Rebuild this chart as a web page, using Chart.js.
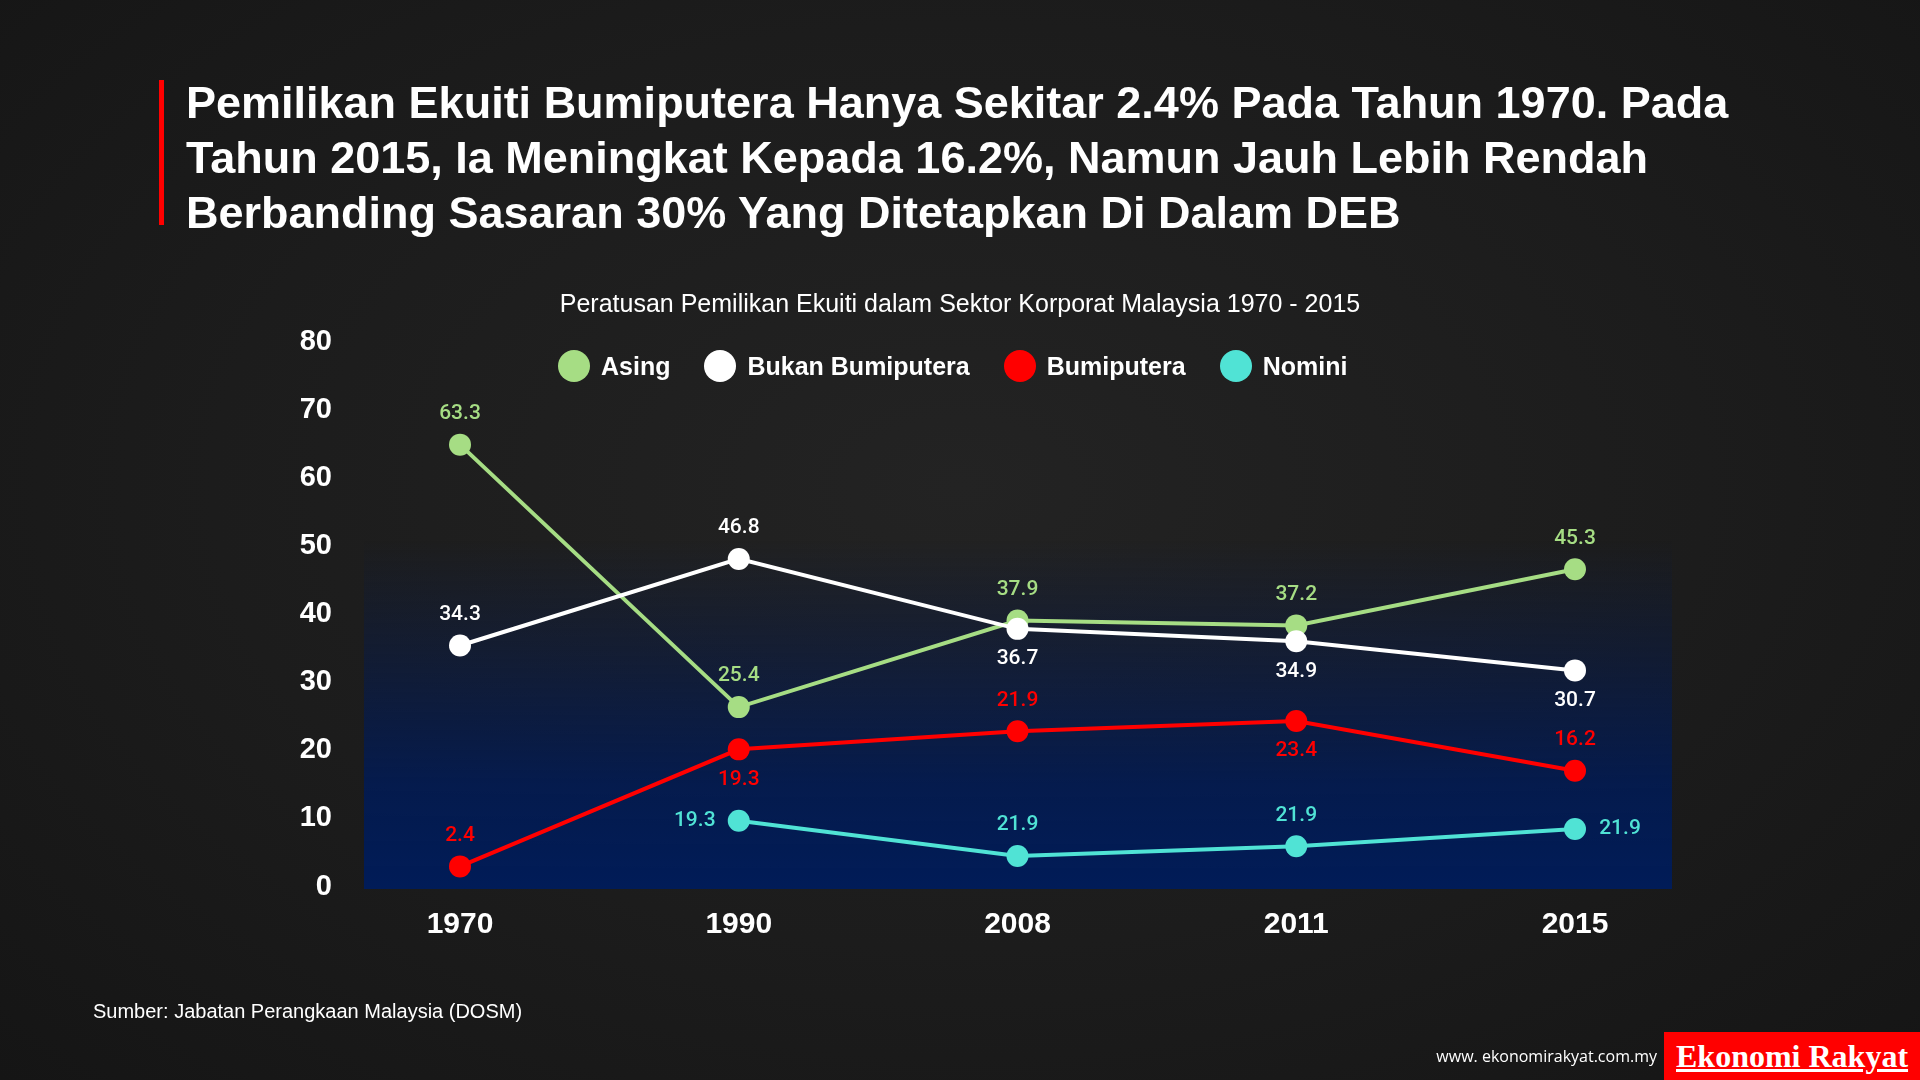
<!DOCTYPE html>
<html>
<head>
<meta charset="utf-8">
<script src="https://cdn.jsdelivr.net/npm/chart.js@4.4.1/dist/chart.umd.min.js"></script>
<style>
    html, body { margin: 0; padding: 0; }
    body {
        width: 1920px; height: 1080px; overflow: hidden; position: relative;
        background: radial-gradient(ellipse at 50% 45%, #232323 0%, #1c1c1c 55%, #151515 100%);
        font-family: "Liberation Sans", Arial, sans-serif; color: #fff;
    }
    #plot { position: absolute; left: 0; top: 0; }
    .bar { position: absolute; left: 159px; top: 80px; width: 5px; height: 145px; background: #ff0000; }
    .headline { position: absolute; left: 186px; top: 75px; font-size: 45px; line-height: 55px; font-weight: bold; white-space: nowrap; }
    .subtitle { position: absolute; left: 0; width: 1920px; top: 291px; text-align: center; font-size: 25px; line-height: 1; }
    #legend { position: absolute; left: 558px; top: 350px; display: flex; align-items: center; font-size: 25px; line-height: 1; font-weight: bold; }
    #legend .item { display: flex; align-items: center; margin-right: 34px; }
    #legend .dot { width: 32px; height: 32px; border-radius: 50%; margin-right: 11px; }
    .source { position: absolute; left: 93px; top: 1001px; font-size: 20px; line-height: 1; }
    .web { position: absolute; right: 263px; top: 1048px; font-family: "Open Sans", sans-serif; font-size: 16px; line-height: 1; }
    .brand {
        position: absolute; left: 1664px; top: 1032px; width: 256px; height: 48px; background: #ff0000;
        display: flex; align-items: center; padding-left: 12px; box-sizing: border-box;
        font-family: "Liberation Serif", "Times New Roman", serif; font-weight: bold; font-size: 32px; text-decoration: underline;
    }
</style>
</head>
<body>
<canvas id="plot" width="1920" height="1080"></canvas>
<div class="bar"></div>
<div class="headline">Pemilikan Ekuiti Bumiputera Hanya Sekitar 2.4% Pada Tahun 1970. Pada<br>Tahun 2015, Ia Meningkat Kepada 16.2%, Namun Jauh Lebih Rendah<br>Berbanding Sasaran 30% Yang Ditetapkan Di Dalam DEB</div>
<div class="subtitle">Peratusan Pemilikan Ekuiti dalam Sektor Korporat Malaysia 1970 - 2015</div>
<div id="legend"></div>
<div class="source">Sumber: Jabatan Perangkaan Malaysia (DOSM)</div>
<div class="web">www. ekonomirakyat.com.my</div>
<div class="brand">Ekonomi Rakyat</div>

<script>
// DATA
// ---------------------------------------------------
const years = [ '1970', '1990', '2008', '2011', '2015' ];
const yTicks = [ 0, 10, 20, 30, 40, 50, 60, 70, 80 ];

const seriesNames = [ 'Asing', 'Bukan Bumiputera', 'Bumiputera', 'Nomini' ];
const seriesColors = [ '#a6dd84', '#ffffff', '#ff0000', '#50e3d5' ];

const asing = [ 63.3, 25.4, 37.9, 37.2, 45.3 ];
const bukanBumiputera = [ 34.3, 46.8, 36.7, 34.9, 30.7 ];
const bumiputera = [ 2.4, 19.3, 21.9, 23.4, 16.2 ];
const nomini = [ null, 9.0, 3.9, 5.3, 7.8 ];

// printed labels (the Nomini ones differ from the plotted values in the source)
const asingText = [ '63.3', '25.4', '37.9', '37.2', '45.3' ];
const bukanText = [ '34.3', '46.8', '36.7', '34.9', '30.7' ];
const bumiText = [ '2.4', '19.3', '21.9', '23.4', '16.2' ];
const nominiText = [ '', '19.3', '21.9', '21.9', '21.9' ];

// where each value label sits relative to its point
const labelSides = [
    [ 'top', 'top', 'top', 'top', 'top' ],
    [ 'top', 'top', 'bottom', 'bottom', 'bottom' ],
    [ 'top', 'bottom', 'top', 'bottom', 'top' ],
    [ '', 'left', 'top', 'top', 'right' ]
];

// LEGEND (html, sits inside the plot like the original)
// ---------------------------------------------------
const legendBox = document.getElementById( 'legend' );
seriesNames.forEach( function ( name, i ) {
    const item = document.createElement( 'div' );
    item.className = 'item';
    item.innerHTML = '<span class="dot" style="background:' + seriesColors[ i ] + '"></span><span>' + name + '</span>';
    legendBox.appendChild( item );
});

// PLUGINS
// ---------------------------------------------------
const bluePanel = {
    id: 'bluePanel',
    beforeDatasetsDraw( chart ) {
        const { ctx, chartArea } = chart;
        const left = chartArea.left - 96;
        const right = chartArea.right + 97;
        const top = 540;
        const bottom = chartArea.bottom + 6;
        const g = ctx.createLinearGradient( 0, top, 0, bottom );
        g.addColorStop( 0, 'rgba(2, 27, 86, 0)' );
        g.addColorStop( 0.3, 'rgba(2, 27, 86, 0.35)' );
        g.addColorStop( 0.7, 'rgba(1, 27, 86, 0.85)' );
        g.addColorStop( 1, 'rgba(1, 28, 88, 1)' );
        ctx.save();
        ctx.fillStyle = g;
        ctx.fillRect( left, top, right - left, bottom - top );
        ctx.restore();
    }
};

const pointLabels = {
    id: 'pointLabels',
    afterDatasetsDraw( chart ) {
        const ctx = chart.ctx;
        ctx.save();
        ctx.font = '500 21px Roboto, sans-serif';
        ctx.textAlign = 'center';
        ctx.textBaseline = 'middle';
        chart.data.datasets.forEach( function ( ds, i ) {
            const meta = chart.getDatasetMeta( i );
            meta.data.forEach( function ( pt, j ) {
                const txt = ds.pointText[ j ];
                if ( !txt || pt.skip ) return;
                let x = pt.x, y = pt.y;
                const side = labelSides[ i ][ j ];
                if ( side === 'top' ) y -= 31;
                if ( side === 'bottom' ) y += 30;
                if ( side === 'left' ) x -= 44;
                if ( side === 'right' ) x += 45;
                ctx.fillStyle = seriesColors[ i ];
                ctx.fillText( txt, x, y );
            });
        });
        ctx.restore();
    }
};

// CHART
// ---------------------------------------------------
function line( i, values, text, order ) {
    return {
        label: seriesNames[ i ],
        data: values,
        pointText: text,
        borderColor: seriesColors[ i ],
        backgroundColor: seriesColors[ i ],
        borderWidth: 4,
        pointRadius: 11,
        pointBorderWidth: 0,
        pointHoverRadius: 11,
        tension: 0,
        spanGaps: false,
        clip: false,
        order: order
    };
}

new Chart( document.getElementById( 'plot' ), {
    type: 'line',
    data: {
        labels: years,
        datasets: [
            line( 0, asing, asingText, 1 ),
            line( 1, bukanBumiputera, bukanText, 0 ),
            line( 2, bumiputera, bumiText, 2 ),
            line( 3, nomini, nominiText, 3 )
        ]
    },
    options: {
        responsive: false,
        animation: false,
        events: [],
        layout: { padding: { top: 329, left: 300, right: 345, bottom: 137 } },
        plugins: { legend: { display: false }, title: { display: false }, tooltip: { enabled: false } },
        scales: {
            x: {
                offset: false,
                grid: { display: false },
                border: { display: false },
                ticks: { color: '#fff', padding: 16, font: { family: 'Liberation Sans', size: 30, weight: 'bold' } },
                afterFit( scale ) { scale.height = 60; }
            },
            // value scale the lines are drawn on
            y: {
                min: 0,
                max: 80,
                display: false
            },
            // tick column; in the original its spacing is a little tighter than the plotted scale
            yLabels: {
                position: 'left',
                min: -0.73,
                max: 80.62,
                grid: { display: false, drawTicks: false },
                border: { display: false },
                afterBuildTicks( scale ) { scale.ticks = yTicks.map( function ( v ) { return { value: v }; } ); },
                ticks: { color: '#fff', padding: 128, labelOffset: 8.5, font: { family: 'Liberation Sans', size: 29, weight: 'bold' } },
                afterFit( scale ) { scale.width = 160; }
            }
        }
    },
    plugins: [ bluePanel, pointLabels ]
});
</script>
</body>
</html>
